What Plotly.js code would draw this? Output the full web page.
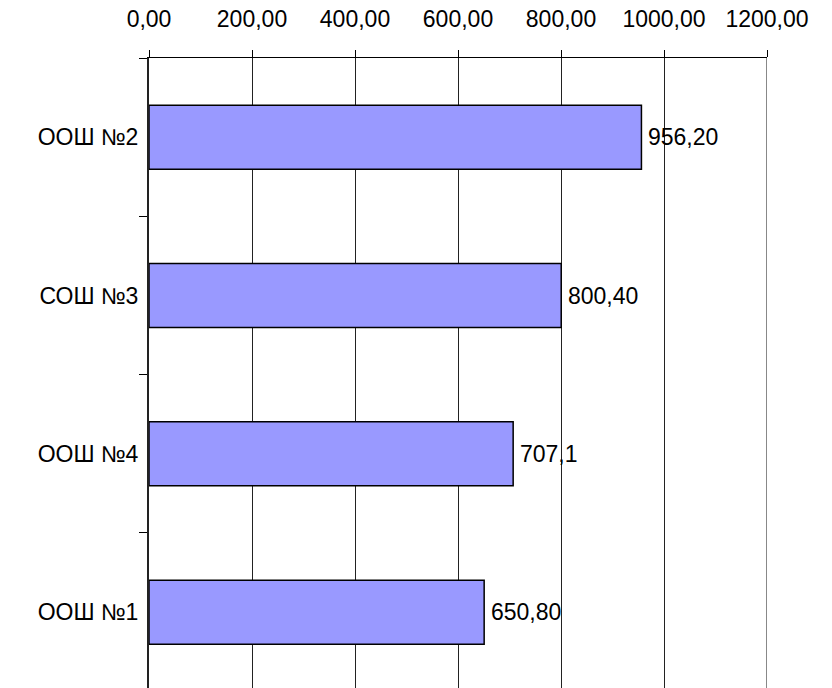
<!DOCTYPE html>
<html>
<head>
<meta charset="utf-8">
<script src="https://cdn.plot.ly/plotly-3.0.1.min.js"></script>
<style>html,body{margin:0;padding:0;background:#fff;}#chart{width:832px;height:688px;}</style>
</head>
<body>
<div id="chart"></div>
<script>
const schools = ["ООШ №1", "ООШ №4", "СОШ №3", "ООШ №2"];
const values = [650.8, 707.1, 800.4, 956.2];
const valueLabels = ["650,80", "707,1", "800,40", "956,20"];
const xTicks = [0, 200, 400, 600, 800, 1000, 1200];
const xTickLabels = ["0,00", "200,00", "400,00", "600,00", "800,00", "1000,00", "1200,00"];
const xMax = 1200;

const fontFamily = '"Liberation Sans", Arial, sans-serif';
const fontSize = 23;

const trace = {
  type: 'bar',
  orientation: 'h',
  y: schools,
  x: values,
  cliponaxis: false,
  marker: {color: '#9999FF', line: {color: '#000', width: 1.5}},
  hoverinfo: 'skip'
};

const annotations = schools.map((s, i) => ({
  x: values[i], y: s, xref: 'x', yref: 'y',
  text: valueLabels[i], showarrow: false,
  xanchor: 'left', yanchor: 'middle', xshift: 5, yshift: 0,
  font: {family: fontFamily, size: fontSize, color: '#000'}
}));

const layout = {
  width: 832,
  height: 688,
  margin: {l: 149, r: 65, t: 58, b: 0, pad: 0},
  paper_bgcolor: '#fff',
  plot_bgcolor: '#fff',
  showlegend: false,
  separators: ',.',
  bargap: 0.596,
  font: {family: fontFamily, size: fontSize, color: '#000'},
  xaxis: {
    side: 'top',
    range: [0, xMax],
    tickmode: 'array',
    tickvals: xTicks,
    ticktext: xTickLabels,
    ticks: 'outside',
    ticklen: 7,
    tickcolor: '#000',
    tickwidth: 1,
    ticklabelstandoff: 14,
    showline: true,
    linecolor: '#000',
    linewidth: 1,
    showgrid: true,
    gridcolor: '#222',
    gridwidth: 1,
    zeroline: false,
    fixedrange: true,
    tickfont: {family: fontFamily, size: fontSize, color: '#000'}
  },
  yaxis: {
    type: 'category',
    categoryorder: 'array',
    categoryarray: schools,
    range: [-0.479, 3.5],
    tickson: 'boundaries',
    ticks: 'outside',
    ticklen: 8,
    tickcolor: '#000',
    tickwidth: 1,
    ticklabelstandoff: 4,
    showline: true,
    linecolor: '#222',
    linewidth: 2,
    showgrid: false,
    zeroline: false,
    fixedrange: true,
    tickfont: {family: fontFamily, size: fontSize, color: '#000'}
  },
  annotations: annotations,
  shapes: [{
    type: 'line', xref: 'x', yref: 'paper', x0: xMax, x1: xMax, y0: 0, y1: 1,
    line: {color: '#888', width: 2}
  }]
};

Plotly.newPlot('chart', [trace], layout, {displayModeBar: false, staticPlot: true});
</script>
</body>
</html>
